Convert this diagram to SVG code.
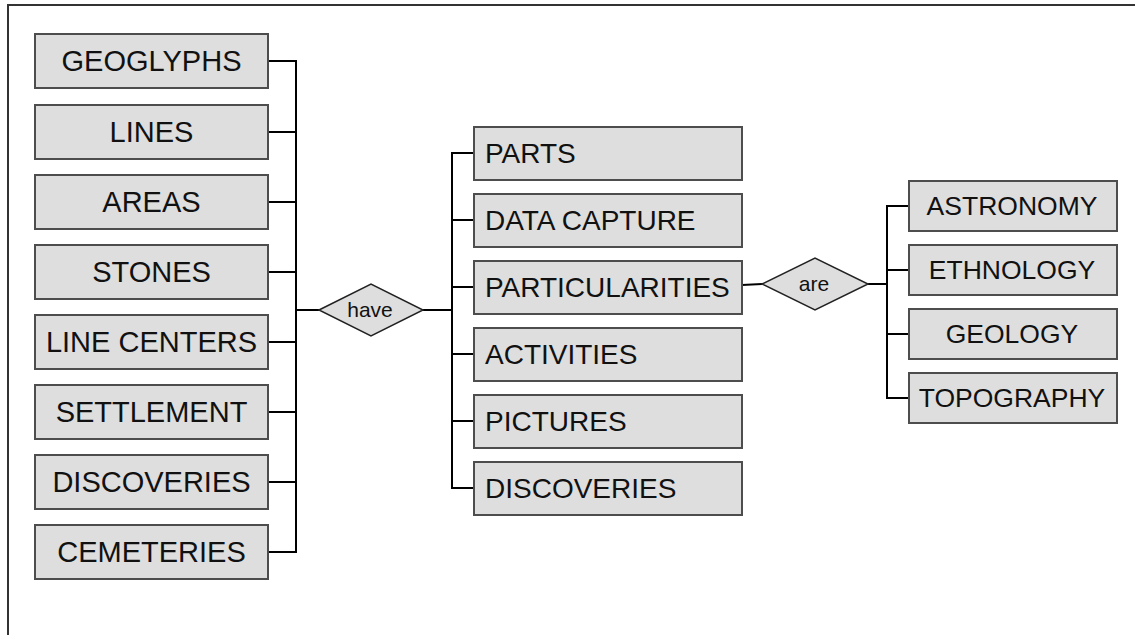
<svg xmlns="http://www.w3.org/2000/svg" width="1135" height="635" viewBox="0 0 1135 635">
<style>
.box{fill:#dedede;stroke:#4d4d4d;stroke-width:2}
.dia{fill:#dedede;stroke:#222;stroke-width:1.5}
.lbl{font-family:"Liberation Sans",Arial,sans-serif;font-size:28px;fill:#111}
.l{font-size:29px}
.r{font-size:26.5px}
.c{text-anchor:middle}
.small{font-family:"Liberation Sans",Arial,sans-serif;font-size:21px;fill:#111;text-anchor:middle}
.con{stroke:#000;stroke-width:2;fill:none}
</style>
<rect x="8" y="5" width="2000" height="2000" fill="#fff" stroke="#333" stroke-width="2"/>
<g id="connectors">
<path class="con" d="M268 61H296M268 132H296M268 202H296M268 272H296M268 342H296M268 412H296M268 482H296M268 552H296M296 60V553M296 310H319"/>
<path class="con" d="M423 310H452M452 152V489M452 153H474M452 220H474M452 287H474M452 354H474M452 421H474M452 488H474"/>
<path class="con" d="M742 285L762 284M868 284H887M887 205V399M887 206H909M887 270H909M887 334H909M887 398H909"/>
</g>
<g id="n-geoglyphs"><rect class="box" x="35" y="34" width="233" height="54"/><text class="lbl l c" x="151.5" y="70.5">GEOGLYPHS</text></g>
<g id="n-lines"><rect class="box" x="35" y="105" width="233" height="54"/><text class="lbl l c" x="151.5" y="141.5">LINES</text></g>
<g id="n-areas"><rect class="box" x="35" y="175" width="233" height="54"/><text class="lbl l c" x="151.5" y="211.5">AREAS</text></g>
<g id="n-stones"><rect class="box" x="35" y="245" width="233" height="54"/><text class="lbl l c" x="151.5" y="281.5">STONES</text></g>
<g id="n-linecenters"><rect class="box" x="35" y="315" width="233" height="54"/><text class="lbl l c" x="151.5" y="351.5">LINE CENTERS</text></g>
<g id="n-settlement"><rect class="box" x="35" y="385" width="233" height="54"/><text class="lbl l c" x="151.5" y="421.5">SETTLEMENT</text></g>
<g id="n-discoveries1"><rect class="box" x="35" y="455" width="233" height="54"/><text class="lbl l c" x="151.5" y="491.5">DISCOVERIES</text></g>
<g id="n-cemeteries"><rect class="box" x="35" y="525" width="233" height="54"/><text class="lbl l c" x="151.5" y="561.5">CEMETERIES</text></g>
<g id="n-have"><polygon class="dia" points="319,310 371,284 423,310 371,336"/><text class="small" x="370" y="317">have</text></g>
<g id="n-parts"><rect class="box" x="474" y="127" width="268" height="53"/><text class="lbl" x="485" y="163">PARTS</text></g>
<g id="n-datacapture"><rect class="box" x="474" y="194" width="268" height="53"/><text class="lbl" x="485" y="230">DATA CAPTURE</text></g>
<g id="n-particularities"><rect class="box" x="474" y="261" width="268" height="53"/><text class="lbl" x="485" y="297">PARTICULARITIES</text></g>
<g id="n-activities"><rect class="box" x="474" y="328" width="268" height="53"/><text class="lbl" x="485" y="364">ACTIVITIES</text></g>
<g id="n-pictures"><rect class="box" x="474" y="395" width="268" height="53"/><text class="lbl" x="485" y="431">PICTURES</text></g>
<g id="n-discoveries2"><rect class="box" x="474" y="462" width="268" height="53"/><text class="lbl" x="485" y="498">DISCOVERIES</text></g>
<g id="n-are"><polygon class="dia" points="762,284 815,258 868,284 815,310"/><text class="small" x="814" y="291">are</text></g>
<g id="n-astronomy"><rect class="box" x="909" y="181" width="208" height="50"/><text class="lbl r c" x="1012" y="214.5">ASTRONOMY</text></g>
<g id="n-ethnology"><rect class="box" x="909" y="245" width="208" height="50"/><text class="lbl r c" x="1012" y="278.5">ETHNOLOGY</text></g>
<g id="n-geology"><rect class="box" x="909" y="309" width="208" height="50"/><text class="lbl r c" x="1012" y="342.5">GEOLOGY</text></g>
<g id="n-topography"><rect class="box" x="909" y="373" width="208" height="50"/><text class="lbl r c" x="1012" y="406.5">TOPOGRAPHY</text></g>
</svg>
